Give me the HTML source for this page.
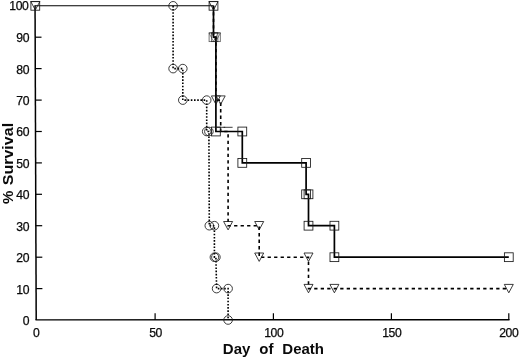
<!DOCTYPE html><html><head><meta charset="utf-8"><style>html,body{margin:0;padding:0;background:#fff}svg{display:block}text{font-family:"Liberation Sans",sans-serif;fill:#0a0a0a}.t{font-size:12.2px;letter-spacing:-0.45px;stroke:#0a0a0a;stroke-width:0.25px}.b{font-size:15px;font-weight:bold}</style></head><body>
<svg width="520" height="359" viewBox="0 0 520 359">
<rect width="520" height="359" fill="#fff"/>
<g stroke="#000" fill="none">
<path stroke-width="1.5" d="M35.05,5.3 L36.2,320"/>
<path stroke-width="1.4" d="M35.5,319.9 L509.5,319.7"/>
<path stroke-width="1.2" d="M36.1,288.6 h6.3"/>
<path stroke-width="1.2" d="M36.0,257.2 h6.3"/>
<path stroke-width="1.2" d="M35.9,225.7 h6.3"/>
<path stroke-width="1.2" d="M35.7,194.3 h6.3"/>
<path stroke-width="1.2" d="M35.6,162.9 h6.3"/>
<path stroke-width="1.2" d="M35.5,131.5 h6.3"/>
<path stroke-width="1.2" d="M35.4,100.1 h6.3"/>
<path stroke-width="1.2" d="M35.3,68.6 h6.3"/>
<path stroke-width="1.2" d="M35.2,37.2 h6.3"/>
<path stroke-width="1.2" d="M155.1,320.0 v-6.7"/>
<path stroke-width="1.2" d="M273.4,320.0 v-6.7"/>
<path stroke-width="1.2" d="M391.4,320.0 v-6.7"/>
<path stroke-width="1.2" d="M508.8,320.0 v-6.7"/>
</g>
<text class="t" x="29.0" y="324.9" text-anchor="end">0</text>
<text class="t" x="29.0" y="293.5" text-anchor="end">10</text>
<text class="t" x="29.0" y="262.1" text-anchor="end">20</text>
<text class="t" x="29.0" y="230.6" text-anchor="end">30</text>
<text class="t" x="29.0" y="199.2" text-anchor="end">40</text>
<text class="t" x="29.0" y="167.8" text-anchor="end">50</text>
<text class="t" x="29.0" y="136.4" text-anchor="end">60</text>
<text class="t" x="29.0" y="105.0" text-anchor="end">70</text>
<text class="t" x="29.0" y="73.5" text-anchor="end">80</text>
<text class="t" x="29.0" y="42.1" text-anchor="end">90</text>
<text class="t" x="28.3" y="10.1" text-anchor="end">100</text>
<text class="t" x="36.2" y="337.2" text-anchor="middle">0</text>
<text class="t" x="155.5" y="337.2" text-anchor="middle">50</text>
<text class="t" x="273.8" y="337.2" text-anchor="middle">100</text>
<text class="t" x="391.8" y="337.2" text-anchor="middle">150</text>
<text class="t" x="508.8" y="337.2" text-anchor="middle">200</text>
<text class="b" x="222.8" y="353.6" xml:space="preserve" style="white-space:pre;word-spacing:0.3px">Day  of  Death</text>
<text class="b" transform="translate(12.5,204) rotate(-90)">%</text>
<text class="b" transform="translate(12.5,185.3) rotate(-90) scale(1.07,1)">Survival</text>
<polyline points="173.1,5.8 173.1,68.6 182.8,68.6 182.8,100.1 206.7,100.1 206.7,131.5 208.9,131.5 209.3,225.7 214.4,225.7 214.4,257.2 215.9,257.2 216.6,288.6 228.1,288.6 228.1,320.0" fill="none" stroke="#000" stroke-width="1.6" stroke-dasharray="1.6 1.6"/>
<polyline points="213.5,5.8 213.5,37.2 215.9,37.2 215.9,100.1 220.7,100.1 220.7,131.5 228.1,131.5 228.1,225.7 259.2,225.7 259.2,257.2 308.5,257.2 308.5,288.6 334.4,288.6 508.8,288.6" fill="none" stroke="#000" stroke-width="1.6" stroke-dasharray="3.3 3.2"/>
<polyline points="35.3,5.8 213.5,5.8" fill="none" stroke="#000" stroke-width="1.1"/>
<polyline points="213.5,5.8 213.5,37.2 215.9,37.2 215.9,131.5 242.3,131.5 242.3,162.9 306.1,162.9 306.1,194.3 308.5,194.3 308.5,225.7 334.4,225.7 334.4,257.2 508.8,257.2" fill="none" stroke="#000" stroke-width="1.7" stroke-linejoin="miter"/>
<g fill="none" stroke="#1a1a1a" stroke-width="0.85">
<circle cx="173.1" cy="5.8" r="4.3"/>
<circle cx="173.1" cy="68.6" r="4.3"/>
<circle cx="182.8" cy="68.6" r="4.3"/>
<circle cx="182.8" cy="100.1" r="4.3"/>
<circle cx="206.7" cy="100.1" r="4.3"/>
<circle cx="206.7" cy="131.5" r="4.3"/>
<circle cx="208.9" cy="131.5" r="4.3"/>
<circle cx="209.3" cy="225.7" r="4.3"/>
<circle cx="214.4" cy="225.7" r="4.3"/>
<circle cx="214.4" cy="257.2" r="4.3"/>
<circle cx="215.9" cy="257.2" r="4.3"/>
<circle cx="216.6" cy="288.6" r="4.3"/>
<circle cx="228.1" cy="288.6" r="4.3"/>
<circle cx="228.1" cy="320.0" r="4.3"/>
<path d="M30.8,1.6 h9 l-4.5,8.4 z"/>
<path d="M209.0,1.6 h9 l-4.5,8.4 z"/>
<path stroke-opacity="0.6" d="M209.0,33.0 h9 l-4.5,8.4 z"/>
<path stroke-opacity="0.6" d="M211.4,33.0 h9 l-4.5,8.4 z"/>
<path d="M211.4,95.9 h9 l-4.5,8.4 z"/>
<path d="M216.2,95.9 h9 l-4.5,8.4 z"/>
<path d="M216.2,127.3 h9"/>
<path d="M223.6,127.3 h9"/>
<path d="M223.6,221.5 h9 l-4.5,8.4 z"/>
<path d="M254.7,221.5 h9 l-4.5,8.4 z"/>
<path d="M254.7,253.0 h9 l-4.5,8.4 z"/>
<path d="M304.0,253.0 h9 l-4.5,8.4 z"/>
<path d="M304.0,284.4 h9 l-4.5,8.4 z"/>
<path d="M329.9,284.4 h9 l-4.5,8.4 z"/>
<path d="M504.3,284.4 h9 l-4.5,8.4 z"/>
<rect x="30.9" y="1.4" width="8.8" height="8.8"/>
<rect x="209.1" y="1.4" width="8.8" height="8.8"/>
<rect stroke-opacity="0.7" x="209.1" y="32.8" width="8.8" height="8.8"/>
<rect stroke-opacity="0.7" x="211.5" y="32.8" width="8.8" height="8.8"/>
<rect x="211.5" y="127.1" width="8.8" height="8.8"/>
<rect x="237.9" y="127.1" width="8.8" height="8.8"/>
<rect x="237.9" y="158.5" width="8.8" height="8.8"/>
<rect x="301.7" y="158.5" width="8.8" height="8.8"/>
<rect x="301.7" y="189.9" width="8.8" height="8.8"/>
<rect x="304.1" y="189.9" width="8.8" height="8.8"/>
<rect x="304.1" y="221.3" width="8.8" height="8.8"/>
<rect x="330.0" y="221.3" width="8.8" height="8.8"/>
<rect x="330.0" y="252.8" width="8.8" height="8.8"/>
<rect x="504.4" y="252.8" width="8.8" height="8.8"/>
</g>
</svg></body></html>
